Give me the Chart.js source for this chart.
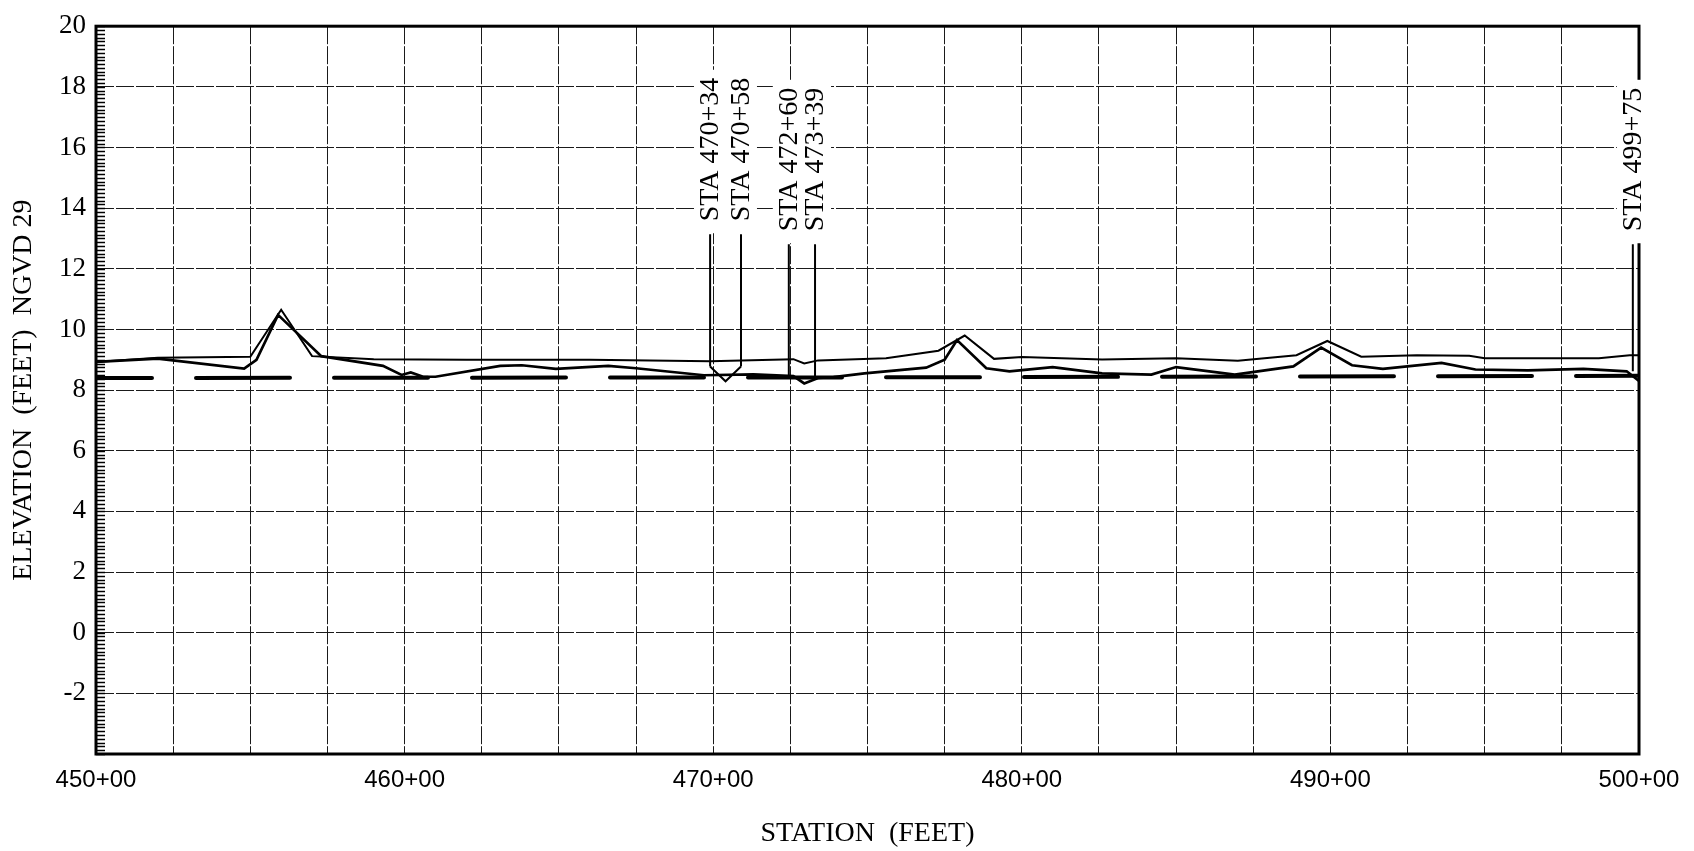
<!DOCTYPE html>
<html>
<head>
<meta charset="utf-8">
<script src="https://cdn.jsdelivr.net/npm/chart.js@4.4.0/dist/chart.umd.min.js"></script>
<style>
  body { margin: 0; background: #fff; }
  canvas { display: block; }
</style>
</head>
<body>
<canvas id="profile" width="1694" height="851"></canvas>
<script>
// Upper profile (thin line)
upperStations = [450.0, 452.0, 455.0, 456.0, 457.0, 459.0, 462.0, 466.0, 469.9, 472.6,
  472.95, 473.4, 475.6, 477.3, 478.15, 479.1, 480.0, 482.6, 485.0, 487.0,
  488.9, 489.9, 491.0, 492.8, 494.5, 495.0, 498.7, 499.7, 500.0];
upperElev = [8.93, 9.07, 9.10, 10.65, 9.12, 9.02, 9.00, 9.00, 8.95, 9.02,
  8.88, 8.98, 9.05, 9.30, 9.80, 9.03, 9.09, 9.01, 9.05, 8.97,
  9.15, 9.62, 9.10, 9.15, 9.13, 9.05, 9.05, 9.15, 9.15];

// Lower profile (heavy line)
lowerStations = [450.0, 452.0, 454.8, 455.2, 455.9, 457.3, 459.3, 459.9, 460.2, 460.6,
  461.0, 463.1, 463.8, 464.9, 466.6, 467.5, 469.7, 471.3, 472.6, 472.95,
  473.4, 473.9, 474.9, 476.9, 477.5, 477.9, 478.85, 479.6, 481.0, 482.6,
  484.2, 485.0, 486.9, 488.8, 489.7, 490.7, 491.7, 493.6, 494.7, 496.4,
  498.2, 499.6, 500.0];
lowerElev = [8.93, 9.04, 8.71, 9.00, 10.48, 9.12, 8.80, 8.50, 8.58, 8.44,
  8.44, 8.80, 8.82, 8.70, 8.80, 8.72, 8.49, 8.52, 8.46, 8.22,
  8.40, 8.43, 8.55, 8.74, 9.00, 9.65, 8.72, 8.62, 8.76, 8.55,
  8.51, 8.76, 8.51, 8.78, 9.40, 8.82, 8.70, 8.90, 8.68, 8.65,
  8.70, 8.62, 8.30];

// Dashed line
dashStations = [450, 475, 500];
dashElev = [8.40, 8.42, 8.47];

// V under the 470 pair
vStations = [469.9, 470.4, 470.9];
vElev = [8.78, 8.29, 8.78];

// Station markers
markerLabels = ['STA 470+34', 'STA 470+58', 'STA 472+60', 'STA 473+39', 'STA 499+75'];
markerStations = [469.9, 470.9, 472.45, 473.3, 499.8];
markerTop = [13.14, 13.14, 12.81, 12.81, 12.81];
markerBottom = [8.78, 8.78, 8.40, 8.40, 8.62];

yTickLabels = [-2, 0, 2, 4, 6, 8, 10, 12, 14, 16, 18, 20];
xTickLabels = [450, 460, 470, 480, 490, 500];

function toPoints(xs, ys) {
  return xs.map((x, i) => ({ x: x, y: ys[i] }));
}

datasets = [
  { data: toPoints(upperStations, upperElev), borderColor: '#000', borderWidth: 2 },
  { data: toPoints(lowerStations, lowerElev), borderColor: '#000', borderWidth: 2.7 },
  { data: toPoints(dashStations, dashElev), borderColor: '#000', borderWidth: 4,
    borderDash: [94, 44], borderDashOffset: 38, borderCapStyle: 'round' },
  { data: toPoints(vStations, vElev), borderColor: '#000', borderWidth: 2 }
];
for (i = 0; i < markerStations.length; i++) {
  datasets.push({
    data: [{ x: markerStations[i], y: markerTop[i] }, { x: markerStations[i], y: markerBottom[i] }],
    borderColor: '#000', borderWidth: 2
  });
}

serif = '"Liberation Serif", "Times New Roman", serif';
labelFont = '28px ' + serif;

function labelBottom(chart, i) {
  return chart.scales.y.getPixelForValue(markerTop[i]) - 13;
}

const framePlugin = {
  id: 'frame',
  beforeDatasetsDraw(chart) {
    const ctx = chart.ctx, a = chart.chartArea;
    const xs = chart.scales.x, ys = chart.scales.y;
    ctx.save();
    // small ticks inside the left axis
    ctx.strokeStyle = '#000';
    ctx.lineWidth = 1.5;
    for (let k = 0; k <= 192; k++) {
      const py = Math.round(ys.getPixelForValue(-4 + k / 8)) + 0.5;
      ctx.beginPath();
      ctx.moveTo(a.left, py);
      ctx.lineTo(a.left + 9, py);
      ctx.stroke();
    }
    // frame
    ctx.lineWidth = 3;
    ctx.strokeRect(a.left, a.top, a.right - a.left, a.bottom - a.top);
    // white boxes behind the marker labels
    ctx.font = labelFont;
    ctx.fillStyle = '#fff';
    markerStations.forEach((s, i) => {
      const cx = xs.getPixelForValue(s);
      const len = ctx.measureText(markerLabels[i]).width;
      const b = labelBottom(chart, i);
      ctx.fillRect(cx - 16, b - len - 8, 32, len + 8 + 12);
    });
    ctx.restore();
  },
  afterDatasetsDraw(chart) {
    const ctx = chart.ctx, xs = chart.scales.x;
    ctx.save();
    ctx.font = labelFont;
    ctx.fillStyle = '#000';
    ctx.textAlign = 'left';
    ctx.textBaseline = 'middle';
    markerStations.forEach((s, i) => {
      ctx.save();
      ctx.translate(xs.getPixelForValue(s) + 1, labelBottom(chart, i));
      ctx.rotate(-Math.PI / 2);
      ctx.fillText(markerLabels[i], 0, 0);
      ctx.restore();
    });
    ctx.restore();
  }
};

const myChart = new Chart(document.getElementById('profile'), {
  type: 'line',
  data: { datasets: datasets },
  plugins: [framePlugin],
  options: {
    responsive: false,
    animation: false,
    layout: { padding: { left: 0, right: 55, top: 16, bottom: 0 } },
    elements: { point: { radius: 0 }, line: { tension: 0, fill: false } },
    plugins: { legend: { display: false }, tooltip: { enabled: false } },
    scales: {
      x: {
        type: 'linear', min: 450, max: 500,
        afterFit: s => { s.height = 97; },
        border: { display: false, dash: [18, 2] },
        grid: { color: '#1a1a1a', lineWidth: 1, drawTicks: false },
        ticks: {
          stepSize: 2.5, autoSkip: false, maxRotation: 0, minRotation: 0, padding: 12,
          color: '#000', font: { family: '"Liberation Sans", Arial, sans-serif', size: 24 },
          callback: v => xTickLabels.some(t => Math.abs(t - v) < 1e-6) ? Math.round(v) + '+00' : ''
        },
        title: {
          display: true, text: 'STATION  (FEET)', color: '#000',
          font: { family: serif, size: 28 },
          padding: { top: 0, bottom: 1 }
        }
      },
      y: {
        min: -4, max: 20,
        afterFit: s => { s.width = 96; },
        border: { display: false, dash: [18, 2] },
        grid: { color: '#1a1a1a', lineWidth: 1, drawTicks: false },
        ticks: {
          stepSize: 1, padding: 10, color: '#000',
          font: { family: serif, size: 27 },
          callback: v => yTickLabels.includes(v) ? String(v) : ''
        },
        title: {
          display: true, text: 'ELEVATION  (FEET)  NGVD 29', color: '#000',
          font: { family: serif, size: 28 },
          padding: { top: 7, bottom: 0 }
        }
      }
    }
  }
});
</script>
</body>
</html>
